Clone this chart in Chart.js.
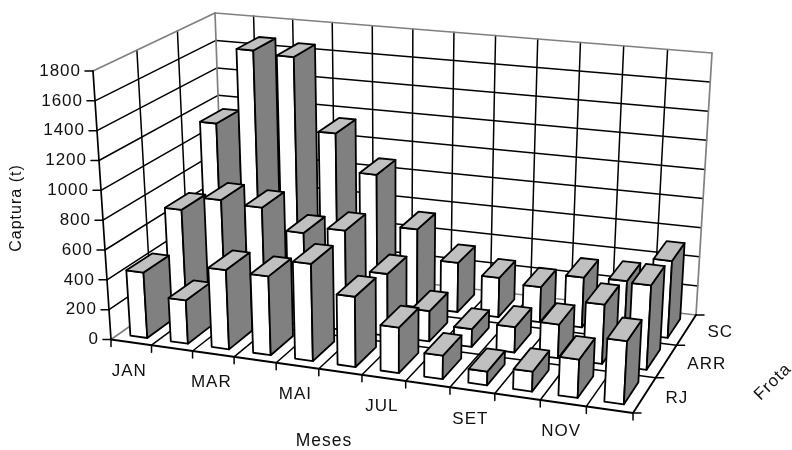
<!DOCTYPE html>
<html>
<head>
<meta charset="utf-8">
<title>Captura por frota</title>
<script src="https://cdn.jsdelivr.net/npm/chart.js@4/dist/chart.umd.min.js"></script>
<style>
    body { margin: 0; background: #fff; }
    canvas { display: block; }
</style>
</head>
<body>
<canvas id="grafico" width="792" height="450"></canvas>
<script>
const meses = ['JAN', 'FEV', 'MAR', 'ABR', 'MAI', 'JUN', 'JUL', 'AGO', 'SET', 'OUT', 'NOV', 'DEZ'];
const frotas = ['SC', 'ARR', 'RJ'];
const capturaRJ = [440, 290, 530, 525, 645, 465, 300, 155, 90, 130, 250, 410];
const capturaARR = [690, 790, 770, 630, 680, 420, 205, 120, 170, 225, 395, 560];
const capturaSC = [1135, 1680, 1660, 1150, 890, 540, 340, 270, 240, 340, 350, 520];

// cantos da caixa 3D: c[mes][frota][altura]
const caixa = {
    p000: [111, 339.5], p100: [633, 413], p010: [224, 260], p110: [696, 315],
    p001: [93, 71], p101: [648, 134], p011: [215, 13], p111: [712, 53]
};
const fatorMes = 1.08, fatorFrota = 0.89, profundidadeBarra = 0.63;

function warp(t, k) {
    return t / (t + k * (1 - t));
}

function projetar(u, v, w) {
    let a = warp(u, fatorMes), b = warp(v, fatorFrota), r = [0, 0];
    for (let i = 0; i < 2; i++) {
        let y0 = caixa.p000[i] * (1 - a) + caixa.p100[i] * a;
        let y1 = caixa.p010[i] * (1 - a) + caixa.p110[i] * a;
        let y2 = caixa.p001[i] * (1 - a) + caixa.p101[i] * a;
        let y3 = caixa.p011[i] * (1 - a) + caixa.p111[i] * a;
        r[i] = (y0 * (1 - b) + y1 * b) * (1 - w) + (y2 * (1 - b) + y3 * b) * w;
    }
    return r;
}

function linha(ctx, p, q, cor, larg) {
    ctx.strokeStyle = cor;
    ctx.lineWidth = larg;
    ctx.beginPath();
    ctx.moveTo(p[0], p[1]);
    ctx.lineTo(q[0], q[1]);
    ctx.stroke();
}

function face(ctx, pts, cor) {
    ctx.fillStyle = cor;
    ctx.beginPath();
    pts.forEach(function (p, i) {
        if (i === 0) ctx.moveTo(p[0], p[1]); else ctx.lineTo(p[0], p[1]);
    });
    ctx.closePath();
    ctx.fill();
    ctx.stroke();
}

function texto(ctx, s, x, y, align, fonte, angulo) {
    ctx.save();
    ctx.translate(x, y);
    ctx.rotate(angulo || 0);
    ctx.fillStyle = '#111';
    ctx.font = fonte;
    ctx.letterSpacing = '1px';
    ctx.textAlign = align;
    ctx.textBaseline = 'middle';
    ctx.fillText(s, 0, 0);
    ctx.restore();
}

const caixa3d = {
    id: 'caixa3d',
    beforeDatasetsDraw: function (chart) {
        const ctx = chart.ctx, area = chart.chartArea;
        const x = chart.scales.x, y = chart.scales.y, z = chart.scales.frota;
        const U = function (px) { return (px - area.left) / area.width; };
        const V = function (px) { return (area.bottom - px) / area.height; };
        const preto = '#000', cinza = '#808080';
        const fonte = '17px "Liberation Sans"';
        ctx.save();
        ctx.lineCap = 'round';

        // grades: paredes e chao
        y.ticks.forEach(function (t) {
            let w = V(y.getPixelForValue(t.value));
            if (t.value === 0) return;
            if (t.value === y.max) return;
            linha(ctx, projetar(0, 0, w), projetar(0, 1, w), preto, 1.5);
            linha(ctx, projetar(0, 1, w), projetar(1, 1, w), preto, 1.5);
        });
        meses.forEach(function (m, i) {
            if (i === 0) return;
            let u = U(x.getPixelForValue(i - 0.5));
            linha(ctx, projetar(u, 0, 0), projetar(u, 1, 0), preto, 1.5);
            linha(ctx, projetar(u, 1, 0), projetar(u, 1, 1), preto, 1.5);
        });
        frotas.forEach(function (f, i) {
            if (i === 0) return;
            let v = V(z.getPixelForValue(i - 0.5));
            linha(ctx, projetar(0, v, 0), projetar(1, v, 0), preto, 1.5);
            linha(ctx, projetar(0, v, 0), projetar(0, v, 1), preto, 1.5);
        });

        // bordas de tras em cinza
        const borda = [[0, 0, 0, 0, 1, 0], [0, 1, 0, 1, 1, 0], [0, 1, 0, 0, 1, 1], [1, 1, 0, 1, 1, 1], [0, 1, 1, 1, 1, 1], [0, 0, 1, 0, 1, 1]];
        borda.forEach(function (b) {
            linha(ctx, projetar(b[0], b[1], b[2]), projetar(b[3], b[4], b[5]), cinza, 1.7);
        });

        // eixos da frente
        linha(ctx, projetar(0, 0, 0), projetar(0, 0, 1), preto, 1.7);
        linha(ctx, projetar(0, 0, 0), projetar(1, 0, 0), preto, 1.9);
        linha(ctx, projetar(1, 0, 0), projetar(1, 1, 0), preto, 1.9);

        // eixo de valores
        y.ticks.forEach(function (t) {
            let p = projetar(0, 0, V(y.getPixelForValue(t.value)));
            linha(ctx, [p[0] - 8, p[1]], p, preto, 1.5);
            texto(ctx, String(t.value), p[0] - 12, p[1], 'right', fonte);
        });

        // eixo de meses
        for (let i = 0; i <= meses.length; i++) {
            let p = projetar(U(x.getPixelForValue(i - 0.5)), 0, 0);
            linha(ctx, p, [p[0], p[1] + 7], preto, 1.5);
        }
        meses.forEach(function (m, i) {
            if (i % 2 !== 0) return;
            let p = projetar(U(x.getPixelForValue(i)), 0, 0);
            texto(ctx, x.getLabelForValue(i), p[0] - 2, p[1] + 28.5, 'center', fonte);
        });

        // eixo de frotas
        for (let i = 0; i <= frotas.length; i++) {
            let p = projetar(1, V(z.getPixelForValue(i - 0.5)), 0);
            linha(ctx, p, [p[0] + 8, p[1]], preto, 1.5);
        }
        frotas.forEach(function (f, i) {
            let p = projetar(1, V(z.getPixelForValue(i)), 0);
            texto(ctx, f, p[0] + 21, p[1] + 3, 'left', fonte);
        });

        // titulos
        texto(ctx, 'Captura (t)', 17, 208, 'center', '16px "Liberation Sans"', -Math.PI / 2);
        texto(ctx, 'Meses', 324, 441, 'center', '17.5px "Liberation Sans"');
        texto(ctx, 'Frota', 773, 382, 'center', '17px "Liberation Sans"', -Math.PI / 4);
        ctx.restore();
    },
    // cada barra vira uma caixa, de tras para frente e da esquerda para a direita
    beforeDatasetDraw: function (chart, args) {
        const ctx = chart.ctx, area = chart.chartArea;
        const z = chart.scales.frota;
        const frota = frotas.indexOf(args.meta.label);
        const banda = Math.abs(z.getPixelForValue(1) - z.getPixelForValue(0));
        const centro = z.getPixelForValue(frota);
        const v0 = (area.bottom - (centro + banda * profundidadeBarra / 2)) / area.height;
        const v1 = (area.bottom - (centro - banda * profundidadeBarra / 2)) / area.height;
        ctx.save();
        ctx.strokeStyle = '#000';
        ctx.lineWidth = 1.8;
        ctx.lineJoin = 'round';
        args.meta.data.forEach(function (el) {
            let u0 = (el.x - el.width / 2 - area.left) / area.width;
            let u1 = (el.x + el.width / 2 - area.left) / area.width;
            let w = (area.bottom - el.y) / area.height;
            face(ctx, [projetar(u0, v0, 0), projetar(u1, v0, 0), projetar(u1, v0, w), projetar(u0, v0, w)], '#ffffff');
            face(ctx, [projetar(u1, v0, 0), projetar(u1, v1, 0), projetar(u1, v1, w), projetar(u1, v0, w)], '#808080');
            face(ctx, [projetar(u0, v0, w), projetar(u1, v0, w), projetar(u1, v1, w), projetar(u0, v1, w)], '#c0c0c0');
        });
        ctx.restore();
        return false;
    }
};

new Chart(document.getElementById('grafico').getContext('2d'), {
    type: 'bar',
    data: {
        labels: meses,
        datasets: [
            { label: 'RJ', data: capturaRJ },
            { label: 'ARR', data: capturaARR },
            { label: 'SC', data: capturaSC }
        ]
    },
    options: {
        responsive: false,
        animation: false,
        grouped: false,
        categoryPercentage: 1,
        barPercentage: 0.42,
        plugins: { legend: { display: false }, tooltip: { enabled: false } },
        scales: {
            x: { display: false, ticks: { autoSkip: false } },
            y: { display: false, min: 0, max: 1800, ticks: { stepSize: 200 } },
            frota: { display: false, type: 'category', axis: 'y', position: 'right', labels: frotas, offset: true }
        }
    },
    plugins: [caixa3d]
});
</script>
</body>
</html>
